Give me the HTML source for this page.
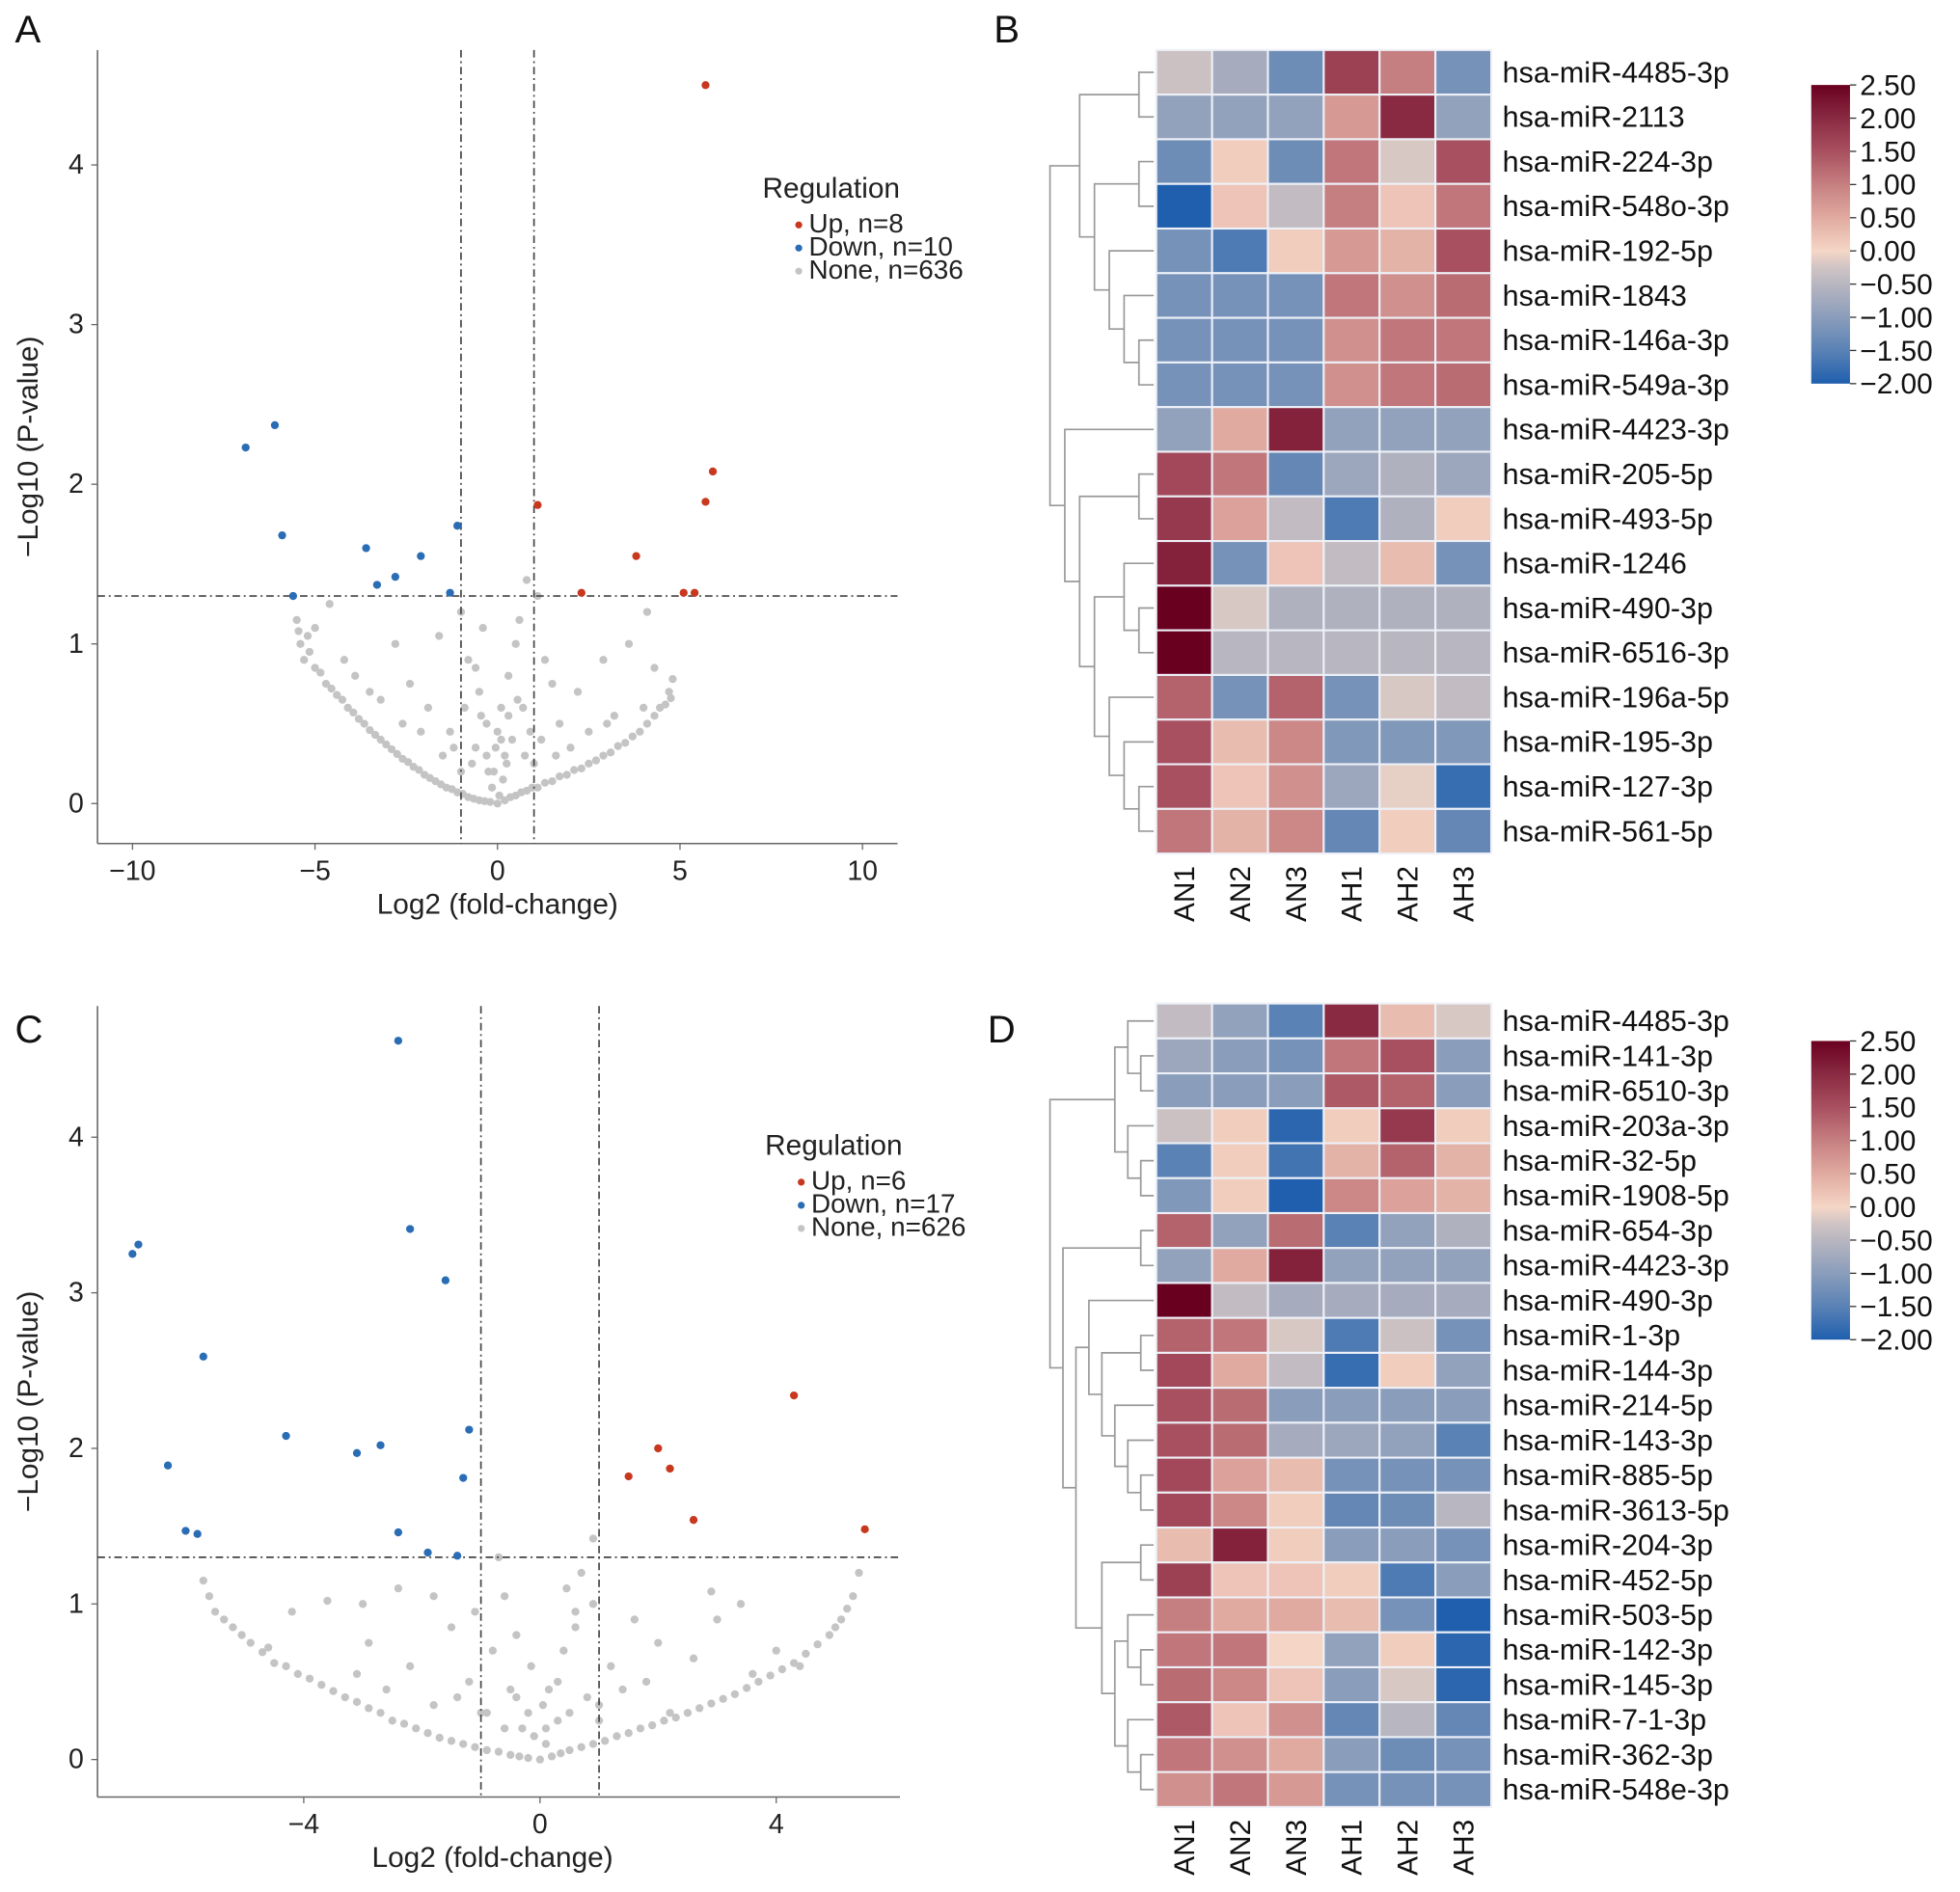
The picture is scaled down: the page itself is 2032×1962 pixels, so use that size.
<!DOCTYPE html>
<html><head><meta charset="utf-8"><style>
html,body{margin:0;padding:0;background:#fff;}
svg{display:block;font-family:"Liberation Sans",Arial,sans-serif;}
</style></head><body>
<svg id="fig" width="2032" height="1962" viewBox="0 0 1568 1514" xmlns="http://www.w3.org/2000/svg">
<defs>
<linearGradient id="cbar" x1="0" y1="1" x2="0" y2="0">
<stop offset="0" stop-color="#1f5fae"/><stop offset="0.111" stop-color="#5a82b5"/><stop offset="0.222" stop-color="#8a9dbb"/><stop offset="0.333" stop-color="#b8b6c0"/><stop offset="0.389" stop-color="#d0c4c4"/><stop offset="0.444" stop-color="#f5d6c6"/><stop offset="0.556" stop-color="#e0aaa0"/><stop offset="0.667" stop-color="#c67f80"/><stop offset="0.778" stop-color="#a85060"/><stop offset="0.889" stop-color="#8a2a42"/><stop offset="1" stop-color="#6a0020"/>
</linearGradient>
</defs>
<g id="root"></g>
</svg>
<script>
// ---------- DATA ----------
const upAx=[5.7,5.9,5.7,1.1,3.8,2.3,5.1,5.4];
const upAy=[4.5,2.08,1.89,1.87,1.55,1.32,1.32,1.32];
const downAx=[-6.1,-6.9,-5.9,-3.6,-1.1,-2.1,-2.8,-3.3,-1.3,-5.6];
const downAy=[2.37,2.23,1.68,1.6,1.74,1.55,1.42,1.37,1.32,1.3];
const noneAx=[-5.5,-5.4,-5.3,-5,-4.7,-4.4,-4.1,-3.8,-3.5,-3.2,-2.9,-2.6,-2.3,-2.0,-1.7,-1.4,-1.1,-0.8,-0.5,-0.2,0,0.2,0.5,0.8,1.1,1.5,1.9,2.3,2.7,3.1,3.5,3.9,4.3,4.6,4.7,4.8,-1,-0.8,-0.5,-0.3,0.3,0.5,0.7,1.1,1.3,2.2,2.9,3.6,4.1,4.3,-4.6,-3.9,-2.8,-2.4,-1.6,-1.9,-0.6,0.2,-0.1,0.4,0.9,1.7,-3.2,-1.3,-2.1,0.6,1.5,2.5,-0.9,-0.4,0.1,-5.2,3.2,
 -5.45,-5.15,-4.85,-4.55,-4.25,-3.95,-3.65,-3.35,-3.05,-2.75,-2.45,-2.15,-1.85,-1.55,-1.25,-0.95,-0.65,-0.35,0.35,0.65,0.95,1.3,1.7,2.1,2.5,2.9,3.3,3.7,4.1,4.45,4.75,
 -0.15,0.05,0.15,-0.25,0.25,-0.05,0.1,-0.3,0.3,0.0,-0.7,0.75,-1.2,1.2,-0.45,0.55,-1.5,1.6,-2.6,2.0,-3.5,3.0,-4.2,4.0,-5.0,1.0,-1.0,0.8,-0.6];
const noneAy=[1.15,1.0,0.9,0.85,0.75,0.68,0.6,0.53,0.46,0.4,0.34,0.28,0.23,0.18,0.14,0.1,0.07,0.04,0.02,0.01,0,0.02,0.05,0.08,0.1,0.14,0.18,0.22,0.27,0.32,0.38,0.45,0.55,0.62,0.7,0.78,1.2,0.9,0.7,0.5,0.8,1.0,0.6,1.3,0.9,0.7,0.9,1.0,1.2,0.85,1.25,0.8,1.0,0.75,1.05,0.6,0.35,0.3,0.2,0.4,0.45,0.5,0.65,0.45,0.45,1.15,0.75,0.45,0.6,1.1,0.6,1.05,0.55,
 1.08,0.95,0.82,0.72,0.65,0.57,0.5,0.43,0.37,0.31,0.26,0.21,0.16,0.12,0.09,0.06,0.03,0.015,0.04,0.07,0.1,0.13,0.17,0.21,0.25,0.3,0.36,0.42,0.5,0.6,0.66,
 0.1,0.05,0.15,0.2,0.25,0.35,0.4,0.3,0.55,0.45,0.25,0.3,0.35,0.4,0.55,0.65,0.3,0.3,0.5,0.35,0.7,0.5,0.9,0.6,1.1,0.25,0.2,1.4,0.85];
const upCx=[4.3,5.5,2.0,2.2,1.5,2.6];
const upCy=[2.34,1.48,2.0,1.87,1.82,1.54];
const downCx=[-2.4,-2.2,-1.6,-6.8,-6.9,-5.7,-4.3,-1.2,-2.7,-3.1,-6.3,-1.3,-6.0,-5.8,-2.4,-1.9,-1.4];
const downCy=[4.62,3.41,3.08,3.31,3.25,2.59,2.08,2.12,2.02,1.97,1.89,1.81,1.47,1.45,1.46,1.33,1.31];
const noneCx=[-5.7,-5.5,-5.2,-4.9,-4.5,-4.1,-3.7,-3.3,-2.9,-2.5,-2.1,-1.7,-1.3,-0.9,-0.5,-0.2,0,0.2,0.5,0.9,1.3,1.7,2.1,2.5,2.9,3.3,3.7,4.1,4.5,4.9,5.1,5.3,5.4,-3.6,-2.4,-1.8,-2.9,-2.2,-1.5,-1.2,-0.8,-0.6,-0.4,0.3,0.7,0.9,0.6,1.2,1.6,2.0,2.6,3.0,3.4,2.9,4.0,-4.2,-3.1,-0.2,0.1,-1,1,0.4,-1.8,1.8,-0.6,0.9,-0.7,
 -5.6,-5.35,-5.05,-4.7,-4.3,-3.9,-3.5,-3.1,-2.7,-2.3,-1.9,-1.5,-1.1,-0.7,-0.35,0.35,0.7,1.1,1.5,1.9,2.3,2.7,3.1,3.5,3.9,4.3,4.7,5.0,5.2,
 -0.1,0.1,-0.3,0.3,0.05,-0.5,0.5,0.15,-0.15,0.8,-0.9,1.4,-1.4,0.6,-0.4,2.2,-2.6,3.6,-4.6,4.4,-3.0,1.0,-1.1,0.45];
const noneCy=[1.15,0.95,0.85,0.75,0.62,0.55,0.48,0.4,0.33,0.25,0.2,0.14,0.1,0.06,0.03,0.01,0,0.02,0.06,0.1,0.15,0.2,0.25,0.3,0.36,0.42,0.5,0.58,0.68,0.8,0.9,1.05,1.2,1.02,1.1,1.05,0.75,0.6,0.85,0.5,0.7,1.05,0.4,0.5,1.2,1.0,0.85,0.6,0.9,0.75,0.65,0.9,1.0,1.08,0.7,0.95,0.55,0.3,0.2,0.3,0.35,0.7,0.35,0.5,0.2,1.42,1.3,
 1.05,0.9,0.8,0.69,0.6,0.52,0.44,0.37,0.3,0.23,0.17,0.12,0.08,0.05,0.02,0.04,0.08,0.12,0.17,0.22,0.27,0.33,0.39,0.46,0.54,0.62,0.74,0.85,0.97,
 0.15,0.1,0.2,0.25,0.35,0.45,0.3,0.45,0.6,0.4,0.3,0.45,0.4,0.95,0.8,0.3,0.45,0.55,0.72,0.6,1.0,0.25,0.95,1.1];

const colsHM=["AN1","AN2","AN3","AH1","AH2","AH3"];
const rowsB=["hsa-miR-4485-3p","hsa-miR-2113","hsa-miR-224-3p","hsa-miR-548o-3p","hsa-miR-192-5p","hsa-miR-1843","hsa-miR-146a-3p","hsa-miR-549a-3p","hsa-miR-4423-3p","hsa-miR-205-5p","hsa-miR-493-5p","hsa-miR-1246","hsa-miR-490-3p","hsa-miR-6516-3p","hsa-miR-196a-5p","hsa-miR-195-3p","hsa-miR-127-3p","hsa-miR-561-5p"];
const valsB=[[-0.3,-0.7,-1.3,1.7,1.0,-1.2],[-0.9,-0.9,-0.9,0.7,2.0,-0.9],[-1.3,0.1,-1.3,1.1,-0.2,1.5],[-2.0,0.2,-0.4,1.0,0.2,1.1],[-1.2,-1.6,0.1,0.7,0.4,1.5],[-1.2,-1.2,-1.2,1.1,0.8,1.2],[-1.2,-1.2,-1.2,0.8,1.1,1.1],[-1.2,-1.2,-1.2,0.8,1.1,1.2],[-0.9,0.5,2.1,-0.9,-0.9,-0.9],[1.6,1.1,-1.4,-0.8,-0.6,-0.8],[1.8,0.6,-0.4,-1.6,-0.6,0.1],[2.1,-1.2,0.2,-0.4,0.3,-1.2],[2.5,-0.2,-0.6,-0.6,-0.6,-0.6],[2.5,-0.5,-0.5,-0.5,-0.5,-0.5],[1.3,-1.2,1.3,-1.2,-0.2,-0.4],[1.5,0.3,0.9,-1.1,-1.1,-1.1],[1.5,0.2,0.8,-0.8,-0.1,-1.8],[1.1,0.4,0.9,-1.4,0.1,-1.4]];
const rowsD=["hsa-miR-4485-3p","hsa-miR-141-3p","hsa-miR-6510-3p","hsa-miR-203a-3p","hsa-miR-32-5p","hsa-miR-1908-5p","hsa-miR-654-3p","hsa-miR-4423-3p","hsa-miR-490-3p","hsa-miR-1-3p","hsa-miR-144-3p","hsa-miR-214-5p","hsa-miR-143-3p","hsa-miR-885-5p","hsa-miR-3613-5p","hsa-miR-204-3p","hsa-miR-452-5p","hsa-miR-503-5p","hsa-miR-142-3p","hsa-miR-145-3p","hsa-miR-7-1-3p","hsa-miR-362-3p","hsa-miR-548e-3p"];
const valsD=[[-0.4,-0.9,-1.5,2.0,0.3,-0.2],[-0.8,-1.0,-1.2,1.1,1.5,-1.0],[-1.0,-1.0,-1.0,1.4,1.3,-1.0],[-0.3,0.1,-1.9,0.1,1.8,0.1],[-1.5,0.1,-1.7,0.4,1.3,0.4],[-1.1,0.1,-2.0,0.9,0.6,0.4],[1.3,-0.9,1.2,-1.5,-0.9,-0.6],[-0.9,0.5,2.1,-0.9,-0.9,-0.9],[2.5,-0.4,-0.7,-0.7,-0.7,-0.7],[1.3,1.1,-0.2,-1.6,-0.3,-1.2],[1.6,0.5,-0.4,-1.8,0.1,-0.9],[1.5,1.2,-1.0,-1.0,-1.0,-1.0],[1.5,1.2,-0.7,-0.8,-0.9,-1.5],[1.6,0.6,0.3,-1.2,-1.2,-1.2],[1.6,0.9,0.1,-1.4,-1.3,-0.5],[0.3,2.1,0.1,-1.0,-1.0,-1.2],[1.7,0.2,0.2,0.1,-1.6,-1.0],[1.0,0.5,0.5,0.3,-1.2,-2.0],[1.1,1.1,0.0,-0.9,0.1,-1.9],[1.2,0.9,0.2,-1.0,-0.2,-1.9],[1.4,0.2,0.8,-1.4,-0.5,-1.4],[1.1,0.8,0.5,-1.0,-1.3,-1.2],[0.8,1.1,0.7,-1.2,-1.2,-1.2]];
const cbarTicks=["2.50","2.00","1.50","1.00","0.50","0.00","\u22120.50","\u22121.00","\u22121.50","\u22122.00"];
const treeB=[[[0,1],[[2,3],[4,[5,[6,7]]]]],[8,[[9,10],[[11,[12,13]],[14,[15,[16,17]]]]]]];
const treeD=[[[0,[1,2]],[3,[4,5]]],[[6,7],[[8,[[9,10],[11,[12,[13,14]]]]],[[15,16],[[17,[18,19]],[20,[21,22]]]]]]];

// ---------- HELPERS ----------
const NS="http://www.w3.org/2000/svg";
const root=document.getElementById('root');
function mk(tag,attrs,parent){const e=document.createElementNS(NS,tag);for(const k in attrs)e.setAttribute(k,attrs[k]);(parent||root).appendChild(e);return e;}
function txt(s,attrs,parent){const e=mk('text',attrs,parent);e.textContent=s;return e;}
const stops=[[-2,[31,95,174]],[-1.5,[90,130,181]],[-1,[138,157,187]],[-0.5,[184,182,192]],[-0.25,[208,196,196]],[0,[245,214,198]],[0.5,[224,170,160]],[1,[198,127,128]],[1.5,[168,80,96]],[2,[138,42,66]],[2.5,[106,0,32]]];
function cmap(v){v=Math.max(-2,Math.min(2.5,v));for(let i=0;i<stops.length-1;i++){const a=stops[i],b=stops[i+1];if(v<=b[0]){const t=(v-a[0])/(b[0]-a[0]);const c=a[1].map((x,j)=>Math.round(x+(b[1][j]-x)*t));return `rgb(${c})`;}}return 'rgb(106,0,32)';}

function volcano(cfg){
  const g=mk('g',{});
  
  
  const X=v=>cfg.x0+v*cfg.sx, Y=v=>cfg.y0-v*cfg.sy;
  mk('line',{x1:cfg.left,y1:cfg.top,x2:cfg.left,y2:cfg.bottom,stroke:'#666','stroke-width':1.2},g);
  mk('line',{x1:cfg.left,y1:cfg.bottom,x2:cfg.right,y2:cfg.bottom,stroke:'#666','stroke-width':1.2},g);
  cfg.xt.forEach(v=>{const x=X(v);mk('line',{x1:x,y1:cfg.bottom,x2:x,y2:cfg.bottom+5,stroke:'#666'},g);
    const t=txt(v<0?'\u2212'+(-v):String(v),{x:x,y:cfg.bottom+29,'font-size':22,'text-anchor':'middle',fill:'#222'},g);
    });
  cfg.yt.forEach(v=>{const y=Y(v);mk('line',{x1:cfg.left-5,y1:y,x2:cfg.left,y2:y,stroke:'#666'},g);
    const t=txt(String(v),{x:cfg.left-11,y:y+7,'font-size':22,'text-anchor':'end',fill:'#222'},g);
    });
  const xt=txt('Log2 (fold-change)',{x:cfg.xtitleX,y:cfg.bottom+56,'font-size':23,'text-anchor':'middle',fill:'#222'},g);
  
  const ymid=(cfg.top+cfg.bottom)/2;
  const yt=txt('\u2212Log10 (P-value)',{x:30,y:ymid,'font-size':23,'text-anchor':'middle',fill:'#222',transform:`rotate(-90 30 ${ymid})`},g);
  
  cfg.nx.forEach((v,i)=>{const c=mk('circle',{cx:X(v),cy:Y(cfg.ny[i]),r:3.2,fill:'#c4c4c4'},g);});
  [-1,1].forEach(v=>{const l=mk('line',{x1:X(v),y1:cfg.top,x2:X(v),y2:cfg.bottom,stroke:'#444','stroke-width':1.3,'stroke-dasharray':'6,3,1.5,3'},g);});
  const h=mk('line',{x1:cfg.left,y1:Y(1.3),x2:cfg.right,y2:Y(1.3),stroke:'#444','stroke-width':1.3,'stroke-dasharray':'6,3,1.5,3'},g);
  
  cfg.dx.forEach((v,i)=>{const c=mk('circle',{cx:X(v),cy:Y(cfg.dy[i]),r:3.2,fill:'#2a6db5'},g);});
  cfg.ux.forEach((v,i)=>{const c=mk('circle',{cx:X(v),cy:Y(cfg.uy[i]),r:3.2,fill:'#c8381f'},g);});
  const lg=mk('g',{},g);
  txt('Regulation',{x:cfg.lx,y:cfg.ly,'font-size':23,fill:'#222'},lg);
  const ents=[['#c8381f',cfg.leg[0]],['#2a6db5',cfg.leg[1]],['#c4c4c4',cfg.leg[2]]];
  ents.forEach((e,i)=>{const y=cfg.ly+28+i*18.5;
    const c=mk('circle',{cx:cfg.lx+29,cy:y-6,r:2.8,fill:e[0]},lg);
    const t=txt(e[1],{x:cfg.lx+37,y:y,'font-size':21.5,fill:'#222'},lg);});
}

function heatmap(cfg){
  const g=mk('g',{});
  
  
  const n=cfg.rows.length, cw=(cfg.right-cfg.left)/6, rh=(cfg.bottom-cfg.top)/n;
  cfg.vals.forEach((r,i)=>r.forEach((v,j)=>{
    const c=mk('rect',{x:cfg.left+j*cw,y:cfg.top+i*rh,width:cw,height:rh,fill:cmap(v),stroke:'#eef1f8','stroke-width':1.6},g);
    }));
  cfg.rows.forEach((s,i)=>{const y=cfg.top+(i+0.5)*rh;
    const t=txt(s,{x:cfg.right+9,y:y+8,'font-size':23.5,fill:'#111'},g);});
  colsHM.forEach((s,j)=>{const x=cfg.left+(j+0.5)*cw+8,y=cfg.bottom+10;
    const t=txt(s,{x:x,y:y,'font-size':23,'text-anchor':'end',fill:'#111',transform:`rotate(-90 ${x} ${y})`},g);});
  const dg=mk('g',{},g);
  function depth(t){return Array.isArray(t)?1+Math.max(depth(t[0]),depth(t[1])):0;}
  const D=depth(cfg.tree), unit=(cfg.left-4-cfg.dleft)/D;
  function draw(t){
    if(!Array.isArray(t)){return {x:cfg.left-2,y:cfg.top+(t+0.5)*rh};}
    const a=draw(t[0]),b=draw(t[1]);const x=cfg.left-2-depth(t)*unit;
    mk('path',{d:`M${a.x},${a.y}H${x}V${b.y}H${b.x}`,fill:'none',stroke:'#999','stroke-width':1.3},dg);
    return {x:x,y:(a.y+b.y)/2};
  }
  draw(cfg.tree);
  const cb=mk('g',{},g);
  mk('rect',{x:1449,y:cfg.cbTop,width:31,height:239,fill:'url(#cbar)'},cb);
  cbarTicks.forEach((s,i)=>{const y=cfg.cbTop+i*239/9;
    mk('line',{x1:1480,y1:y,x2:1485,y2:y,stroke:'#333'},cb);
    const t=txt(s,{x:1488,y:y+8,'font-size':23,fill:'#111'},cb);});
}

volcano({name:'volcano-plot-a',left:78,right:718,top:40,bottom:675,x0:398,sx:29.2,y0:643,sy:127.75,xt:[-10,-5,0,5,10],yt:[0,1,2,3,4],xtitleX:398,
  nx:noneAx,ny:noneAy,ux:upAx,uy:upAy,dx:downAx,dy:downAy,lx:610,ly:158,leg:['Up, n=8','Down, n=10','None, n=636']});
volcano({name:'volcano-plot-c',left:78,right:720,top:805,bottom:1438,x0:432,sx:47.25,y0:1408,sy:124.5,xt:[-4,0,4],yt:[0,1,2,3,4],xtitleX:394,
  nx:noneCx,ny:noneCy,ux:upCx,uy:upCy,dx:downCx,dy:downCy,lx:612,ly:924,leg:['Up, n=6','Down, n=17','None, n=626']});
heatmap({name:'heatmap-b',left:925,right:1193,top:40,bottom:683,rows:rowsB,vals:valsB,tree:treeB,dleft:838,cbTop:68});
heatmap({name:'heatmap-d',left:925,right:1193,top:803,bottom:1446,rows:rowsD,vals:valsD,tree:treeD,dleft:838,cbTop:833});

[['A',12,34],['B',795,34],['C',12,834],['D',790,834]].forEach(p=>{
  const t=txt(p[0],{x:p[1],y:p[2],'font-size':31,fill:'#111'});
  
  
});
</script>
</body></html>
